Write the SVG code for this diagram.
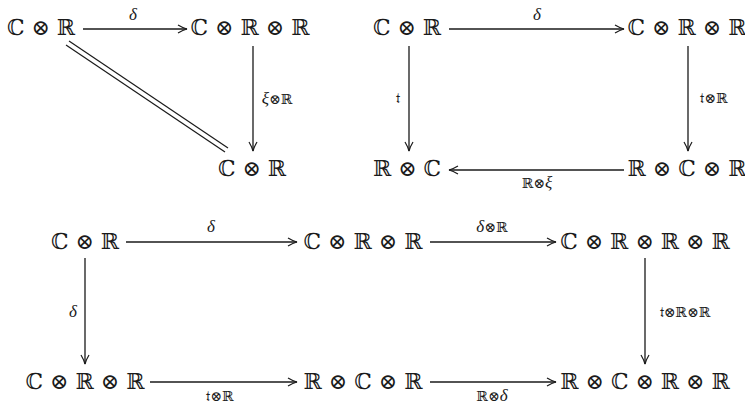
<svg xmlns="http://www.w3.org/2000/svg" width="745" height="405" viewBox="0 0 745 405">
<style>
.n{font-family:"DejaVu Serif","Liberation Serif",serif;font-size:22px;fill:#1a1a1a;text-anchor:middle}
.l{font-family:"DejaVu Serif","Liberation Serif",serif;font-size:14px;fill:#1a1a1a;text-anchor:middle}
.i{font-family:"Liberation Serif","DejaVu Serif",serif;font-style:italic;font-size:17px}
.a{stroke:#1a1a1a;stroke-width:1.3;fill:none;marker-end:url(#h)}
.d{stroke:#1a1a1a;stroke-width:1.2;fill:none}
</style>
<defs>
<marker id="h" markerWidth="12" markerHeight="10" refX="10" refY="5" orient="auto" markerUnits="userSpaceOnUse">
<path d="M1,1 Q6,4 10,5 Q6,6 1,9" stroke="#1a1a1a" stroke-width="1.2" fill="none"/>
</marker>
</defs>
<rect width="745" height="405" fill="#ffffff"/>
<g id="connectors">
<line class="a" x1="83" y1="29" x2="187" y2="29"/>
<line class="a" x1="253" y1="46" x2="253" y2="151"/>
<line class="d" x1="66" y1="45" x2="225" y2="152"/>
<line class="d" x1="69" y1="41" x2="228" y2="148"/>
<line class="a" x1="449" y1="29" x2="624" y2="29"/>
<line class="a" x1="409" y1="46" x2="409" y2="151"/>
<line class="a" x1="688" y1="46" x2="688" y2="151"/>
<line class="a" x1="624" y1="170" x2="449" y2="170"/>
<line class="a" x1="126" y1="242" x2="297" y2="242"/>
<line class="a" x1="430" y1="242" x2="556" y2="242"/>
<line class="a" x1="85" y1="258" x2="85" y2="364"/>
<line class="a" x1="645" y1="258" x2="645" y2="364"/>
<line class="a" x1="150" y1="382" x2="297" y2="382"/>
<line class="a" x1="430" y1="382" x2="556" y2="382"/>
<text class="l" x="133" y="20"><tspan class="i">δ</tspan></text>
<text class="l" x="277" y="104"><tspan class="i">ξ</tspan>⊗ℝ</text>
<text class="l" x="537" y="20"><tspan class="i">δ</tspan></text>
<text class="l" x="398" y="103">𝔱</text>
<text class="l" x="714" y="103">𝔱⊗ℝ</text>
<text class="l" x="537" y="188">ℝ⊗<tspan class="i">ξ</tspan></text>
<text class="l" x="211" y="232"><tspan class="i">δ</tspan></text>
<text class="l" x="492" y="232"><tspan class="i">δ</tspan>⊗ℝ</text>
<text class="l" x="73" y="317"><tspan class="i">δ</tspan></text>
<text class="l" x="685" y="317">𝔱⊗ℝ⊗ℝ</text>
<text class="l" x="220" y="401">𝔱⊗ℝ</text>
<text class="l" x="492" y="401">ℝ⊗<tspan class="i">δ</tspan></text>
</g>
<g id="A1"><text class="n" x="41" y="35">ℂ ⊗ ℝ</text></g>
<g id="B1"><text class="n" x="250" y="35">ℂ ⊗ ℝ ⊗ ℝ</text></g>
<g id="C1"><text class="n" x="252" y="176">ℂ ⊗ ℝ</text></g>
<g id="A2"><text class="n" x="407" y="35">ℂ ⊗ ℝ</text></g>
<g id="B2"><text class="n" x="687" y="35">ℂ ⊗ ℝ ⊗ ℝ</text></g>
<g id="C2"><text class="n" x="407" y="176">ℝ ⊗ ℂ</text></g>
<g id="D2"><text class="n" x="687" y="176">ℝ ⊗ ℂ ⊗ ℝ</text></g>
<g id="A3"><text class="n" x="85" y="249">ℂ ⊗ ℝ</text></g>
<g id="B3"><text class="n" x="363" y="249">ℂ ⊗ ℝ ⊗ ℝ</text></g>
<g id="C3"><text class="n" x="645" y="249">ℂ ⊗ ℝ ⊗ ℝ ⊗ ℝ</text></g>
<g id="D3"><text class="n" x="85" y="389">ℂ ⊗ ℝ ⊗ ℝ</text></g>
<g id="E3"><text class="n" x="363" y="389">ℝ ⊗ ℂ ⊗ ℝ</text></g>
<g id="F3"><text class="n" x="645" y="389">ℝ ⊗ ℂ ⊗ ℝ ⊗ ℝ</text></g>
</svg>
